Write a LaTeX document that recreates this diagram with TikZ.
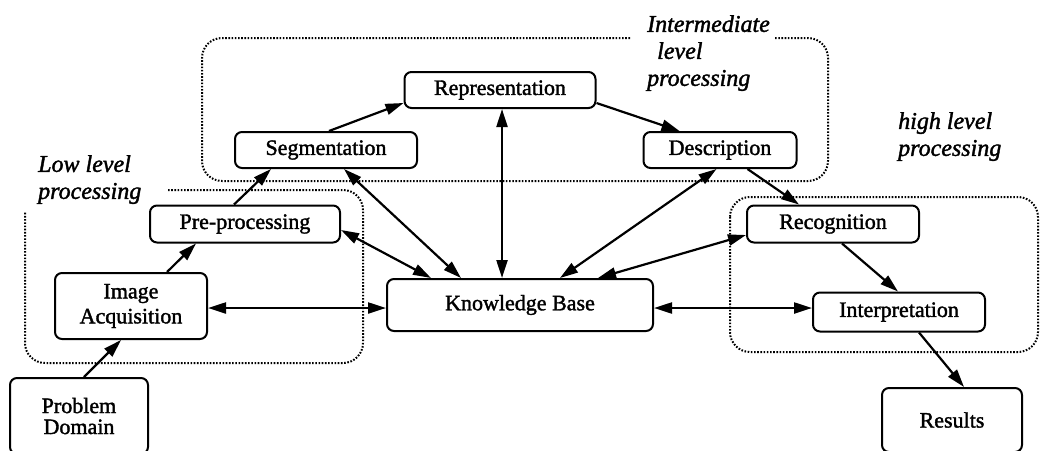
\documentclass[tikz,border=0pt]{standalone}
\usepackage{fontspec}
\setmainfont{Liberation Serif}
\newfontfamily\stagefont{Liberation Serif}[FakeBold=1.6]
\newfontfamily\tagfont{Liberation Serif Italic}[FakeBold=1.6]
\usetikzlibrary{arrows.meta}

\begin{document}
\begin{tikzpicture}[
  x=1pt, y=-1pt,
  stage/.style={rectangle, rounded corners=7pt, draw=black, line width=2pt,
                align=center, inner sep=0pt, font=\stagefont\fontsize{22}{25}\selectfont},
  flow/.style={-{Triangle[length=18pt,width=11pt]}, line width=2.2pt},
  twoway/.style={{Triangle[length=18pt,width=11pt]}-{Triangle[length=18pt,width=11pt]}, line width=2.2pt},
  zone/.style={line width=2pt, dash pattern=on 1.6pt off 1.6pt, rounded corners=20pt},
  tag/.style={align=left, inner sep=0pt, anchor=north west,
              font=\tagfont\fontsize{24}{27}\selectfont}
]
\useasboundingbox (0,0) rectangle (1040,450);

% ── processing zones ─────────────────────────────────────────────────────────
\draw[zone] (630,38) -- (202,38) -- (202,181) -- (828,181) -- (828,38) -- (775,38);
\draw[zone] (168,190) -- (363,190) -- (363,363) -- (25,363) -- (25,212);
\draw[zone] (730,197) rectangle (1038,352);

\node[tag] (midtag)  at (647,15)  {Intermediate\\\hspace{10pt}level\\processing};
\node[tag] (lowtag)  at (38,155)  {Low level\\processing};
\node[tag] (hightag) at (898,112) {high level\\processing};

% ── stages ───────────────────────────────────────────────────────────────────
\node[stage, minimum width=138pt, minimum height=76pt] (domain) at (79,416)
  {Problem\\[-4pt]Domain};
\node[stage, minimum width=152pt, minimum height=66pt] (acq) at (131,306)
  {Image\\Acquisition};
\node[stage, minimum width=190pt, minimum height=37pt] (pre) at (245,224) {Pre-processing};
\node[stage, minimum width=182pt, minimum height=36pt] (seg) at (326,150) {Segmentation};
\node[stage, minimum width=191pt, minimum height=36pt] (rep) at (500,90)  {Representation};
\node[stage, minimum width=153pt, minimum height=36pt] (desc) at (720,150) {Description};
\node[stage, minimum width=266pt, minimum height=52pt] (kb) at (520,305) {Knowledge Base};
\node[stage, minimum width=172pt, minimum height=37pt] (rec) at (833,224) {Recognition};
\node[stage, minimum width=172pt, minimum height=39pt] (interp) at (899,312) {Interpretation};
\node[stage, minimum width=140pt, minimum height=64pt] (res) at (952,420) {Results};

% ── main chain ───────────────────────────────────────────────────────────────
\draw[flow] ([xshift=75pt]domain.north west) -- ([xshift=67pt]acq.south west);
\draw[flow] ([xshift=113pt]acq.north west) -- ([xshift=47pt]pre.south west);
\draw[flow] ([xshift=85pt]pre.north west) -- ([xshift=37pt]seg.south west);
\draw[flow] ([xshift=95pt]seg.north west) -- ([yshift=-13pt]rep.west);
\draw[flow] ([yshift=-13pt]rep.east) -- ([xshift=37pt]desc.north west);
\draw[flow] ([xshift=105pt]desc.south west) -- ([xshift=53pt]rec.north west);
\draw[flow] ([xshift=96pt]rec.south west) -- ([xshift=86pt]interp.north west);
\draw[flow] ([xshift=107pt]interp.south west) -- ([xshift=83pt]res.north west);

% ── knowledge base links ─────────────────────────────────────────────────────
\draw[twoway] ([yshift=-2pt]acq.east) -- ([yshift=-3pt]kb.west);
\draw[twoway] ([yshift=-6pt]pre.east) -- ([xshift=45pt]kb.north west);
\draw[twoway] ([xshift=110pt]seg.south west) -- ([xshift=75pt]kb.north west);
\draw[twoway] ([xshift=2pt]rep.south) -- ([xshift=-18pt]kb.north);
\draw[twoway] ([xshift=74pt]desc.south west) -- ([xshift=40pt]kb.north);
\draw[twoway] ([yshift=-11pt]rec.west) -- ([xshift=78pt]kb.north);
\draw[twoway] ([yshift=-3pt]kb.east) -- ([yshift=4pt]interp.west);
\end{tikzpicture}
\end{document}
